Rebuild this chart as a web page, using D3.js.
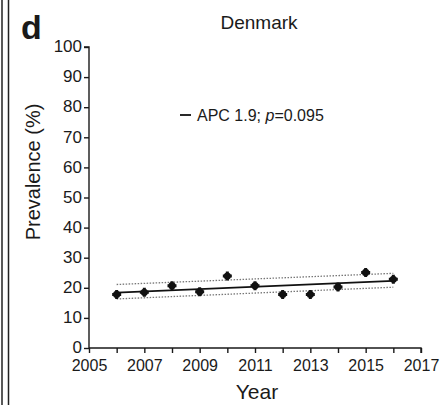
<!DOCTYPE html>
<html><head><meta charset="utf-8">
<script src="https://cdn.jsdelivr.net/npm/d3@7"></script>
<style>body{margin:0;background:#fff;} text{font-family:"Liberation Sans",Arial,sans-serif;fill:#1a1a1a;}</style>
</head><body>
<svg id="c" width="444" height="405"></svg>
<script>
const years = [2006,2007,2008,2009,2010,2011,2012,2013,2014,2015,2016];
const prevalence = [17.8,18.5,20.7,18.7,23.9,20.7,17.8,17.8,20.3,25.1,22.8];
const trendEnds = [18.4,22.3];
const upperEnds = [21.1,24.8];
const lowerEnds = [16.3,20.2];
const xTicks = [2005,2007,2009,2011,2013,2015,2017];
const yTicks = [0,10,20,30,40,50,60,70,80,90,100];

const svg = d3.select("#c");
const x = d3.scaleLinear().domain([2005,2017]).range([89,421]);
const y = d3.scaleLinear().domain([0,100]).range([348,47]);
const FF = "Liberation Sans, Arial, sans-serif";

// borders
svg.append("line").attr("x1",2).attr("x2",2).attr("y1",0).attr("y2",405).attr("stroke","#222").attr("stroke-width",1.5);
svg.append("line").attr("x1",8.5).attr("x2",8.5).attr("y1",0).attr("y2",405).attr("stroke","#222").attr("stroke-width",1.5);

svg.append("text").attr("x",21).attr("y",39).attr("font-size",34).attr("font-weight","bold").text("d");
svg.append("text").attr("x",259).attr("y",29).attr("text-anchor","middle").attr("font-size",19).text("Denmark");

const yAxis = d3.axisLeft(y).tickValues(yTicks).tickSize(5).tickPadding(2);
const gy = svg.append("g").attr("transform","translate(89,0)").call(yAxis);
gy.selectAll("text").attr("font-size",17).attr("dy","0.28em").style("font-family",FF).attr("fill","#1a1a1a");
gy.select(".domain").attr("d","M-5,47H0V348").attr("stroke","#1a1a1a").attr("stroke-width",1.4);
gy.selectAll(".tick line").attr("stroke","#1a1a1a").attr("stroke-width",1.4);

const xAxis = d3.axisBottom(x).tickValues(d3.range(2005,2018)).tickSize(5).tickPadding(7).tickFormat(d=> xTicks.includes(d)? d : "");
const gx = svg.append("g").attr("transform","translate(0,348)").call(xAxis);
gx.selectAll("text").attr("font-size",16).style("font-family",FF).attr("fill","#1a1a1a");
gx.select(".domain").attr("d","M89,0V0H421V5").attr("stroke","#1a1a1a").attr("stroke-width",1.4);
gx.selectAll(".tick line").attr("stroke","#1a1a1a").attr("stroke-width",1.4);

svg.append("text").attr("transform","translate(40,172) rotate(-90)").attr("text-anchor","middle").attr("font-size",20).text("Prevalence (%)");
svg.append("text").attr("x",257).attr("y",399).attr("text-anchor","middle").attr("font-size",21).text("Year");

// CI bands
const ends = [years[0], years[years.length-1]];
[upperEnds, lowerEnds].forEach(arr=>{
  svg.append("line").attr("x1",x(ends[0])).attr("x2",x(ends[1])).attr("y1",y(arr[0])).attr("y2",y(arr[1]))
    .attr("stroke","#777").attr("stroke-width",1.3).attr("stroke-dasharray","1.5,1.5");
});
svg.append("line").attr("x1",x(ends[0])).attr("x2",x(ends[1])).attr("y1",y(trendEnds[0])).attr("y2",y(trendEnds[1]))
  .attr("stroke","#111").attr("stroke-width",1.8);

svg.selectAll("circle.pt").data(years).enter().append("circle")
  .attr("cx",d=>x(d)).attr("cy",(d,i)=>y(prevalence[i])).attr("r",3.6).attr("fill","#111");
svg.selectAll("path.pt").data(years).enter().append("path")
  .attr("d", d3.symbol().type(d3.symbolCross).size(45))
  .attr("transform",(d,i)=>"translate("+x(d)+","+y(prevalence[i])+")").attr("fill","#111");

// legend
svg.append("line").attr("x1",180).attr("x2",191).attr("y1",115).attr("y2",115).attr("stroke","#111").attr("stroke-width",1.8);
const lg = svg.append("text").attr("x",197).attr("y",121).attr("font-size",16);
lg.append("tspan").text("APC 1.9; ");
lg.append("tspan").attr("font-style","italic").text("p");
lg.append("tspan").text("=0.095");
</script>
</body></html>
